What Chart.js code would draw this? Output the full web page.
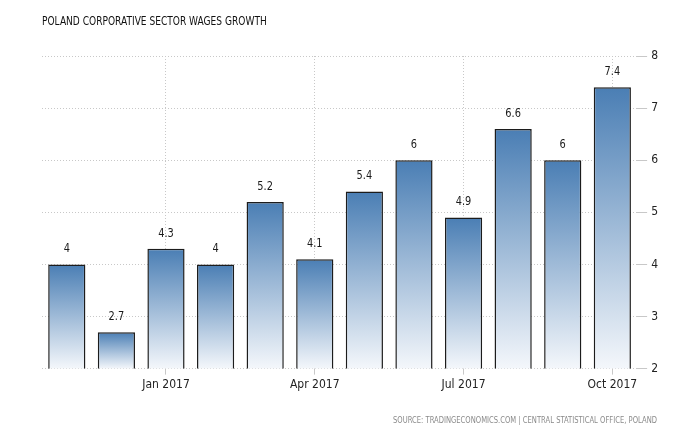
<!DOCTYPE html>
<html>
<head>
<meta charset="utf-8">
<script src="https://cdn.jsdelivr.net/npm/chart.js@4"></script>
<style>html,body{margin:0;background:#fff}</style>
</head>
<body>
<canvas id="wages" width="700" height="440"></canvas>
<script>
const months = ['Nov 2016', 'Dec 2016', 'Jan 2017', 'Feb 2017', 'Mar 2017', 'Apr 2017',
                'May 2017', 'Jun 2017', 'Jul 2017', 'Aug 2017', 'Sep 2017', 'Oct 2017'];
const wages = [4, 2.7, 4.3, 4, 5.2, 4.1, 5.4, 6, 4.9, 6.6, 6, 7.4];
const shownLabels = ['Jan 2017', 'Apr 2017', 'Jul 2017', 'Oct 2017'];
const yMin = 2, yMax = 8;

const titleText = 'POLAND CORPORATIVE SECTOR WAGES GROWTH';
const sourceText = 'SOURCE: TRADINGECONOMICS.COM | CENTRAL STATISTICAL OFFICE, POLAND';
const FONT = '"DejaVu Sans Condensed", sans-serif';
const SQUEEZE = 0.84; // reference font is narrower than DejaVu condensed

// per-bar gradient, dark at the top of each bar fading to white at the base
function barGradient(ctx) {
    const chart = ctx.chart;
    if (!chart.chartArea) return '#4a7fb5';
    const y = chart.scales.y;
    const top = y.getPixelForValue(ctx.raw);
    const bottom = y.getPixelForValue(yMin);
    const g = chart.ctx.createLinearGradient(0, top, 0, bottom);
    g.addColorStop(0, '#4a7eb4');
    g.addColorStop(1, '#f4f7fb');
    return g;
}

// draw narrow text by squeezing horizontally around x
function narrowText(c, text, x, y) {
    c.save();
    c.translate(x, y);
    c.scale(SQUEEZE, 1);
    c.fillText(text, 0, 0);
    c.restore();
}

const textPlugin = {
    id: 'texts',
    afterDatasetsDraw(chart) {
        const c = chart.ctx;
        c.save();
        // value labels over the bars
        c.font = '13px ' + FONT;
        c.fillStyle = '#1a1a1a';
        c.textAlign = 'center';
        c.textBaseline = 'bottom';
        chart.getDatasetMeta(0).data.forEach((bar, i) => {
            narrowText(c, String(wages[i]), bar.x, bar.y - 9);
        });
        // title + source
        c.textAlign = 'left';
        c.textBaseline = 'middle';
        c.font = '12px ' + FONT;
        c.fillStyle = '#111';
        narrowText(c, titleText, 42, 22);
        c.textAlign = 'right';
        c.font = '9px ' + FONT;
        c.fillStyle = '#8a8a8a';
        narrowText(c, sourceText, 657, 421);
        c.restore();
    }
};

new Chart(document.getElementById('wages').getContext('2d'), {
    type: 'bar',
    data: {
        labels: months,
        datasets: [{
            data: wages,
            backgroundColor: barGradient,
            borderColor: '#1c1c1c',
            borderWidth: 1.5,
            borderSkipped: false,
            categoryPercentage: 1,
            barPercentage: 0.75
        }]
    },
    options: {
        responsive: false,
        animation: false,
        layout: { padding: { left: 42, right: 38, top: 56, bottom: 45 } },
        plugins: {
            legend: { display: false },
            tooltip: { enabled: false }
        },
        scales: {
            x: {
                grid: {
                    offset: false,
                    color: (ctx) => shownLabels.includes(months[ctx.index]) ? '#c8c8c8' : 'transparent',
                    tickLength: 6
                },
                border: { display: false, dash: [1, 2] },
                ticks: {
                    autoSkip: false,
                    maxRotation: 0,
                    color: '#222',
                    font: { size: 12, family: FONT },
                    callback: (v, i) => shownLabels.includes(months[i]) ? months[i] : ''
                }
            },
            y: {
                position: 'right',
                min: yMin,
                max: yMax,
                grid: { color: '#c8c8c8', tickLength: 10 },
                border: { display: false, dash: [1, 2] },
                ticks: {
                    stepSize: 1,
                    padding: 4,
                    color: '#222',
                    font: { size: 12, family: FONT }
                }
            }
        }
    },
    plugins: [textPlugin]
});
</script>
</body>
</html>
